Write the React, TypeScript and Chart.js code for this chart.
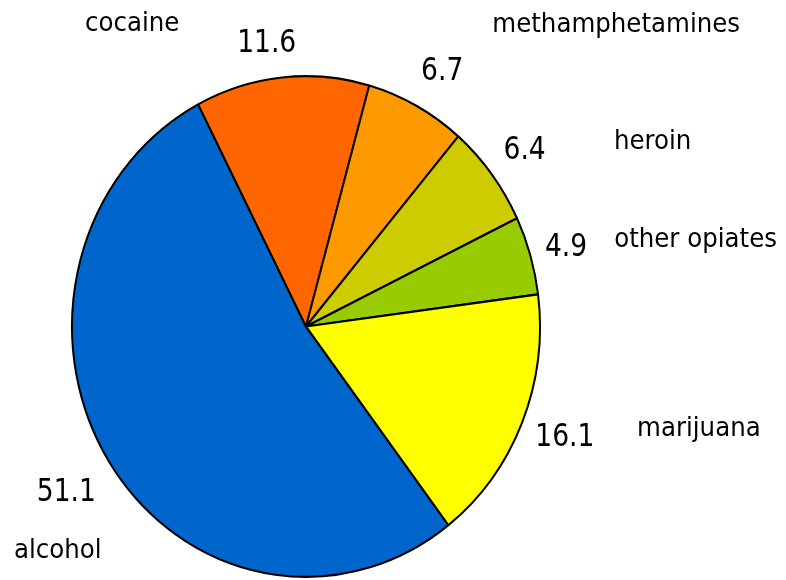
import React, { useEffect, useRef } from "react";
import { Chart, registerables } from "chart.js";

Chart.register(...registerables);

const categories = ["alcohol", "cocaine", "methamphetamines", "heroin", "other opiates", "marijuana"];
const values = [51.1, 11.6, 6.7, 6.4, 4.9, 16.1];
const valueLabels = ["51.1", "11.6", "6.7", "6.4", "4.9", "16.1"];
const colors = ["#0066CC", "#FF6600", "#FF9900", "#CCCC00", "#99CC00", "#FFFF00"];
// small nudges of the value labels from their automatic place
const valueNudges: [number, number][] = [
  [-1, 0],
  [-12, -3],
  [8, -2],
  [0, 0],
  [-4, 1],
  [-3, -9],
];
// name label offset from its value label (x from centre, y from baseline)
const nameOffsets: [number, number][] = [
  [-8.5, 57],
  [-134.5, -21],
  [174, -48],
  [128, -10],
  [129.5, -9.3],
  [134, -10],
];

const STRETCH = 1.07;
const GAP = 18;
const NUM_FONT = '29.5px "DejaVu Sans Condensed", "DejaVu Sans", sans-serif';
const NAME_FONT = '24.5px "DejaVu Sans", sans-serif';

const ellipsePlugin = {
  id: "ellipse",
  beforeDatasetsDraw(chart: any) {
    const ctx = chart.ctx;
    const a = chart.chartArea;
    const cx = (a.left + a.right) / 2;
    const cy = (a.top + a.bottom) / 2;
    ctx.save();
    ctx.translate(cx, cy);
    ctx.scale(1, STRETCH);
    ctx.translate(-cx, -cy);
  },
  afterDatasetsDraw(chart: any) {
    chart.ctx.restore();
  },
};

const labelPlugin = {
  id: "pieLabels",
  afterDraw(chart: any) {
    const ctx = chart.ctx;
    const meta = chart.getDatasetMeta(0);
    meta.data.forEach((arc: any, i: number) => {
      const { x, y, startAngle, endAngle, outerRadius } = arc.getProps(
        ["x", "y", "startAngle", "endAngle", "outerRadius"],
        true
      );
      const mid = (startAngle + endAngle) / 2;
      const c = Math.cos(mid);
      const s = Math.sin(mid);
      ctx.save();
      ctx.font = NUM_FONT;
      const w = ctx.measureText(valueLabels[i]).width;
      const h = 24;
      const ext = Math.abs(c) * (w / 2) + Math.abs(s) * (h / (2 * STRETCH));
      const r = outerRadius + GAP + ext;
      const vx = x + r * c + valueNudges[i][0];
      const vy = y + r * s * STRETCH + valueNudges[i][1];
      const base = vy + h / 2;
      ctx.fillStyle = "#000";
      ctx.textAlign = "center";
      ctx.textBaseline = "alphabetic";
      ctx.save();
      ctx.translate(vx, base);
      ctx.scale(1, STRETCH);
      ctx.fillText(valueLabels[i], 0, 0);
      ctx.restore();
      ctx.font = NAME_FONT;
      const [ox, oy] = nameOffsets[i];
      ctx.save();
      ctx.translate(vx + ox, base + oy);
      ctx.scale(1, STRETCH);
      ctx.fillText(categories[i], 0, 0);
      ctx.restore();
      ctx.restore();
    });
  },
};

export default function App() {
  const ref = useRef<HTMLCanvasElement>(null);
  useEffect(() => {
    document.body.style.margin = "0";
    const chart = new Chart(ref.current!, {
      type: "pie",
      data: {
        labels: categories,
        datasets: [
          {
            data: values,
            backgroundColor: colors,
            borderColor: "#000000",
            borderWidth: 2,
          },
        ],
      },
      options: {
        animation: false,
        responsive: false,
        rotation: 142.5,
        layout: { padding: { left: 71, right: 245, top: 91.5, bottom: 18.5 } },
        plugins: { legend: { display: false }, tooltip: { enabled: false } },
      },
      plugins: [ellipsePlugin, labelPlugin],
    });
    return () => chart.destroy();
  }, []);
  return (
    <div style={{ width: 786, height: 580, background: "#fff" }}>
      <canvas ref={ref} width={786} height={580} />
    </div>
  );
}
